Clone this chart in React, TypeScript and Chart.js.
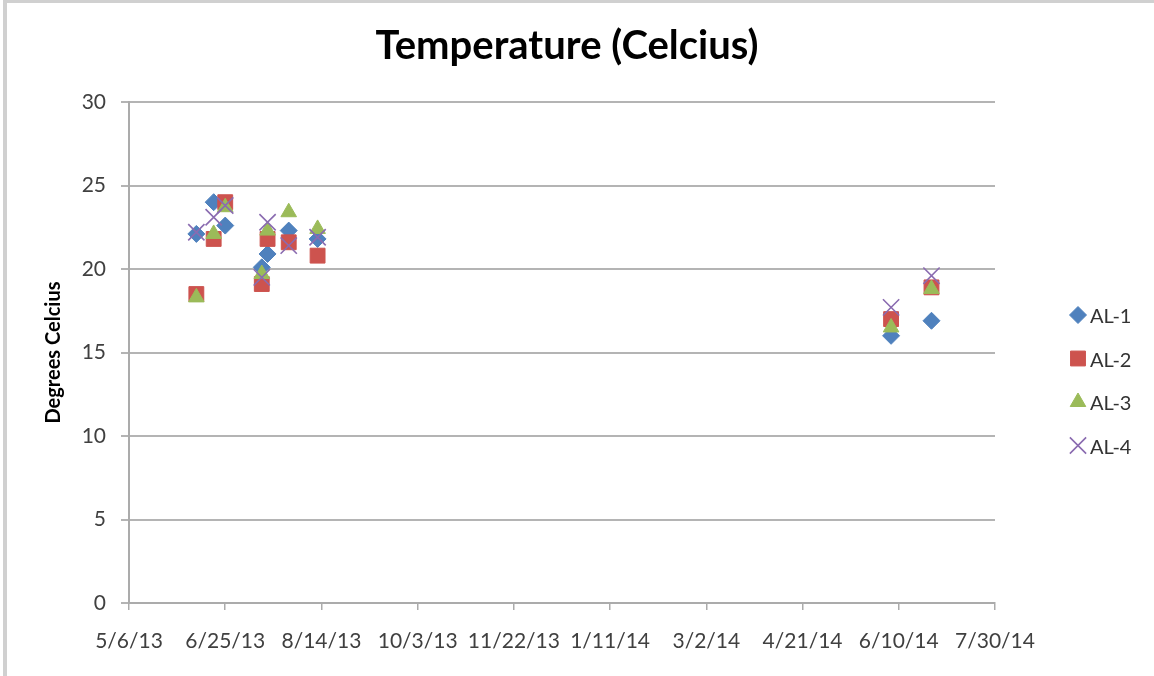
import React, { useEffect, useRef } from "react";
import { Chart, registerables } from "chart.js";
import { drawPoint } from "chart.js/helpers";

Chart.register(...registerables);

// ---- Data ----
const sampleDates = ["6/10/13", "6/19/13", "6/25/13", "7/14/13", "7/17/13", "7/28/13", "8/12/13", "6/6/14", "6/27/14"];
const al1 = [22.1, 24.0, 22.6, 20.1, 20.9, 22.3, 21.8, 16.0, 16.9];
const al2 = [18.5, 21.8, 24.0, 19.1, 21.8, 21.6, 20.8, 17.0, 18.9];
const al3 = [18.3, 22.1, 23.7, 19.7, 22.3, 23.4, 22.4, 16.5, 18.8];
const al4 = [22.2, 23.1, 23.8, 19.5, 22.8, 21.4, 21.9, 17.7, 19.6];
const seriesNames = ["AL-1", "AL-2", "AL-3", "AL-4"];
const xAxisStart = "5/6/13";
const xAxisEnd = "7/30/14";
const xTickStepDays = 50;
const yTicks = [0, 5, 10, 15, 20, 25, 30];

// Excel-style serial date helpers
function toSerial(s: string): number {
  const [m, d, y] = s.split("/").map(Number);
  return Date.UTC(2000 + y, m - 1, d) / 86400000 + 25569;
}
function fromSerial(v: number): string {
  const dt = new Date((v - 25569) * 86400000);
  return `${dt.getUTCMonth() + 1}/${dt.getUTCDate()}/${String(dt.getUTCFullYear()).slice(2)}`;
}

const styles = [
  { pointStyle: "rectRot", radius: 8.5, color: "#4f81bd", border: 1 },
  { pointStyle: "rect", radius: 10.5, color: "#cd534e", border: 1 },
  { pointStyle: "triangle", radius: 9, color: "#9bbb59", border: 1 },
  { pointStyle: "crossRot", radius: 11.5, color: "#8a6bb0", border: 1.6 },
];

const legendPlugin = {
  id: "customLegend",
  afterDraw(chart: any) {
    const ctx = chart.ctx;
    ctx.save();
    chart.data.datasets.forEach((ds: any, i: number) => {
      const y = 315 + i * 43.5;
      const x = 1078;
      ctx.fillStyle = ds.backgroundColor;
      ctx.strokeStyle = ds.borderColor;
      ctx.lineWidth = ds.borderWidth;
      drawPoint(ctx, { pointStyle: ds.pointStyle, radius: ds.pointRadius, rotation: 0, borderWidth: ds.borderWidth }, x, y);
      ctx.fillStyle = "#333333";
      ctx.font = "20px Lato";
      ctx.textBaseline = "middle";
      ctx.textAlign = "left";
      ctx.fillText(ds.label, 1090, y + 2);
    });
    ctx.restore();
  },
};

export default function App() {
  const ref = useRef<HTMLCanvasElement | null>(null);
  useEffect(() => {
    if (!ref.current) return;
    Chart.defaults.font.family = "Lato";
    const series = [al1, al2, al3, al4];
    const chart = new Chart(ref.current, {
      type: "scatter",
      data: {
        datasets: series.map((vals, i) => ({
          label: seriesNames[i],
          data: sampleDates.map((d, j) => ({ x: toSerial(d), y: vals[j] })),
          pointStyle: styles[i].pointStyle as any,
          pointRadius: styles[i].radius,
          pointHoverRadius: styles[i].radius,
          backgroundColor: styles[i].color,
          borderColor: styles[i].color,
          borderWidth: styles[i].border,
          showLine: false,
          order: series.length - i,
        })),
      },
      options: {
        responsive: false,
        animation: false,
        events: [],
        layout: { padding: { left: 0, right: 20, top: 0, bottom: 0 } },
        plugins: {
          legend: { display: false },
          tooltip: { enabled: false },
          title: {
            display: true,
            text: "Temperature (Celcius)",
            color: "#000000",
            font: { size: 40, weight: "bold", family: "Lato" },
            padding: { top: 22, bottom: 32 },
          },
        },
        scales: {
          x: {
            type: "linear",
            min: toSerial(xAxisStart),
            max: toSerial(xAxisEnd),
            afterFit: (s: any) => {
              s.height = 73;
            },
            afterBuildTicks: (s: any) => {
              const t: any[] = [];
              for (let v = toSerial(xAxisStart); v <= toSerial(xAxisEnd); v += xTickStepDays) t.push({ value: v });
              s.ticks = t;
            },
            ticks: {
              callback: (v: any) => fromSerial(Number(v)),
              color: "#404040",
              font: { size: 21 },
              padding: 19,
              maxRotation: 0,
              autoSkip: false,
            },
            grid: { drawOnChartArea: false, drawTicks: true, tickLength: 7, color: "#ababab", lineWidth: 1.5 },
            border: { color: "#ababab", width: 2 },
          },
          y: {
            min: 0,
            max: 30,
            afterFit: (s: any) => {
              s.width = 129;
            },
            afterBuildTicks: (s: any) => {
              s.ticks = yTicks.map((v) => ({ value: v }));
            },
            ticks: { color: "#404040", font: { size: 21 }, padding: 15 },
            grid: { color: "#b4b4b4", lineWidth: 2, drawTicks: true, tickLength: 8 },
            border: { color: "#ababab", width: 2 },
            title: {
              display: true,
              text: "Degrees Celcius",
              color: "#000000",
              font: { size: 20, weight: "bold", family: "Lato" },
              padding: { top: 42, bottom: 0 },
            },
          },
          legendSpace: {
            type: "linear",
            position: "right",
            display: true,
            afterFit: (s: any) => {
              s.width = 139;
            },
            grid: { display: false },
            ticks: { display: false },
            border: { display: false },
          },
        },
      },
      plugins: [legendPlugin],
    });
    return () => chart.destroy();
  }, []);

  return (
    <div style={{ position: "fixed", left: 0, top: 0, width: 1154, height: 676, background: "#ffffff" }}>
      <div
        style={{
          position: "absolute",
          left: 3,
          top: 0,
          right: 0,
          bottom: 0,
          borderLeft: "4px solid #d0d0d0",
          borderTop: "3px solid #d0d0d0",
        }}
      />
      <canvas ref={ref} width={1154} height={676} style={{ position: "absolute", left: 0, top: 0 }} />
    </div>
  );
}
